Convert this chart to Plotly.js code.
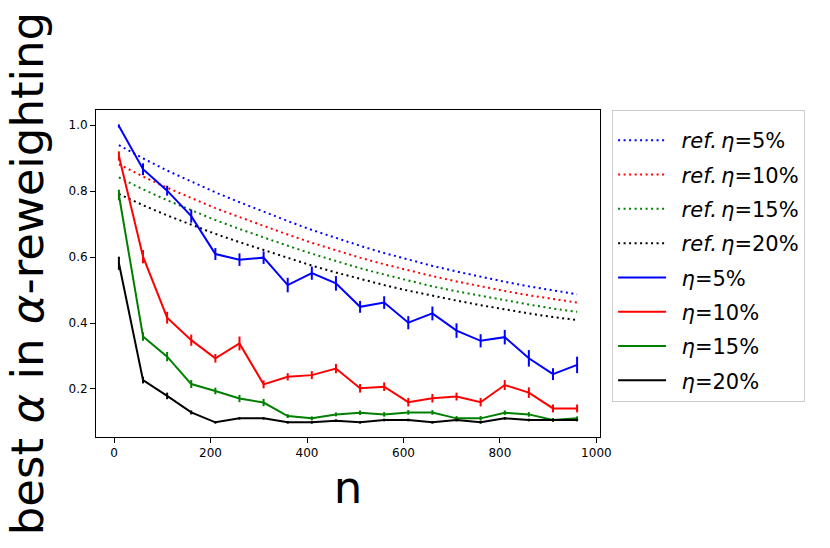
<!DOCTYPE html>
<html>
<head>
<meta charset="utf-8">
<script src="https://cdn.plot.ly/plotly-3.0.1.min.js"></script>
<style>html,body{margin:0;padding:0;background:#fff;}#chart{width:830px;height:548px;}</style>
</head>
<body>
<div id="chart"></div>
<script>
// sample sizes
const nValues = [10,60,110,160,210,260,310,360,410,460,510,560,610,660,710,760,810,860,910,960];

// reference curves (dotted)
const ref5  = [0.939,0.899,0.862,0.828,0.796,0.766,0.737,0.709,0.682,0.657,0.634,0.612,0.592,0.573,0.556,0.540,0.525,0.511,0.498,0.487];
const ref10 = [0.881,0.844,0.810,0.778,0.748,0.721,0.694,0.668,0.643,0.620,0.598,0.578,0.559,0.542,0.526,0.511,0.497,0.484,0.472,0.462];
const ref15 = [0.841,0.805,0.772,0.741,0.712,0.685,0.659,0.634,0.610,0.587,0.566,0.547,0.529,0.511,0.496,0.482,0.468,0.456,0.444,0.434];
const ref20 = [0.791,0.757,0.726,0.697,0.670,0.645,0.621,0.597,0.574,0.553,0.533,0.515,0.498,0.482,0.468,0.454,0.441,0.429,0.418,0.409];

// measured best alpha
const best5  = [0.997,0.866,0.801,0.724,0.609,0.592,0.598,0.515,0.551,0.520,0.449,0.462,0.401,0.429,0.377,0.346,0.357,0.293,0.245,0.273];
const best10 = [0.906,0.601,0.416,0.348,0.293,0.338,0.214,0.237,0.242,0.262,0.202,0.207,0.160,0.172,0.177,0.160,0.212,0.189,0.141,0.141];
const best15 = [0.788,0.359,0.298,0.215,0.194,0.171,0.159,0.118,0.111,0.123,0.128,0.123,0.129,0.129,0.111,0.111,0.128,0.123,0.106,0.111];
const best20 = [0.581,0.227,0.179,0.129,0.099,0.111,0.111,0.099,0.099,0.104,0.099,0.106,0.106,0.099,0.106,0.099,0.111,0.106,0.106,0.106];

// error bar half-widths
const err5  = [0.005,0.018,0.015,0.020,0.018,0.019,0.019,0.022,0.020,0.022,0.018,0.019,0.020,0.021,0.022,0.020,0.022,0.025,0.018,0.025];
const err10 = [0.014,0.020,0.018,0.017,0.013,0.021,0.012,0.011,0.012,0.014,0.013,0.013,0.013,0.013,0.012,0.013,0.015,0.016,0.012,0.012];
const err15 = [0.016,0.013,0.014,0.012,0.010,0.011,0.011,0.006,0.006,0.006,0.007,0.007,0.007,0.007,0.007,0.007,0.007,0.007,0.006,0.006];
const err20 = [0.020,0.010,0.010,0.006,0.004,0.004,0.004,0.004,0.004,0.004,0.004,0.004,0.004,0.004,0.004,0.004,0.004,0.004,0.004,0.004];

const refLabels  = ['\u2002<i>ref.</i>\u2009<i>η</i>=5%','\u2002<i>ref.</i>\u2009<i>η</i>=10%','\u2002<i>ref.</i>\u2009<i>η</i>=15%','\u2002<i>ref.</i>\u2009<i>η</i>=20%'];
const bestLabels = ['\u2002<i>η</i>=5%','\u2002<i>η</i>=10%','\u2002<i>η</i>=15%','\u2002<i>η</i>=20%'];
const colors = ['#0000ff','#ff0000','#008000','#000000'];

const refs = [ref5, ref10, ref15, ref20];
const bests = [best5, best10, best15, best20];
const errs = [err5, err10, err15, err20];

const traces = [];
refs.forEach((r, i) => {
  traces.push({
    x: nValues, y: r, type: 'scatter', mode: 'lines',
    name: refLabels[i], legendgroup: 'r' + i,
    line: {color: colors[i], width: 2, dash: '2px,3.5px'}
  });
});
bests.forEach((b, i) => {
  traces.push({
    x: nValues, y: b, type: 'scatter', mode: 'lines',
    name: bestLabels[i], legendgroup: 'b' + i,
    line: {color: colors[i], width: 2},
    error_y: {type: 'data', array: errs[i], visible: true, color: colors[i], thickness: 2, width: 0}
  });
});

const layout = {
  width: 830, height: 548,
  margin: {l: 96, r: 230, t: 110, b: 111},
  paper_bgcolor: '#ffffff', plot_bgcolor: '#ffffff',
  font: {family: 'DejaVu Sans', color: '#000', size: 12},
  showlegend: true,
  legend: {
    x: 1.024, y: 1, xanchor: 'left', yanchor: 'top',
    bordercolor: '#cccccc', borderwidth: 1, bgcolor: '#ffffff',
    font: {family: 'DejaVu Sans', size: 21, color: '#000'},
    title: {text: ' ', font: {size: 7}},
    traceorder: 'grouped', tracegroupgap: 4, itemwidth: 48
  },
  xaxis: {
    range: [-37.5, 1007.5], tickvals: [0,200,400,600,800,1000],
    ticks: 'outside', ticklen: 5, tickwidth: 1, tickcolor: '#000',
    showline: true, linecolor: '#000', linewidth: 1, mirror: true,
    showgrid: false, zeroline: false,
    tickfont: {size: 12},
    title: {text: 'n', font: {size: 45, family: 'DejaVu Sans'}, standoff: 12}
  },
  yaxis: {
    range: [0.0545, 1.0455], tickvals: [0.2,0.4,0.6,0.8,1.0], tickformat: '.1f',
    ticks: 'outside', ticklen: 5, tickwidth: 1, tickcolor: '#000',
    showline: true, linecolor: '#000', linewidth: 1, mirror: true,
    showgrid: false, zeroline: false,
    tickfont: {size: 12},
    title: {text: 'best <i>α</i> in <i>α</i>-reweighting', font: {size: 45, family: 'DejaVu Sans'}, standoff: 10}
  }
};

Plotly.newPlot('chart', traces, layout, {staticPlot: true, displayModeBar: false});
</script>
</body>
</html>
